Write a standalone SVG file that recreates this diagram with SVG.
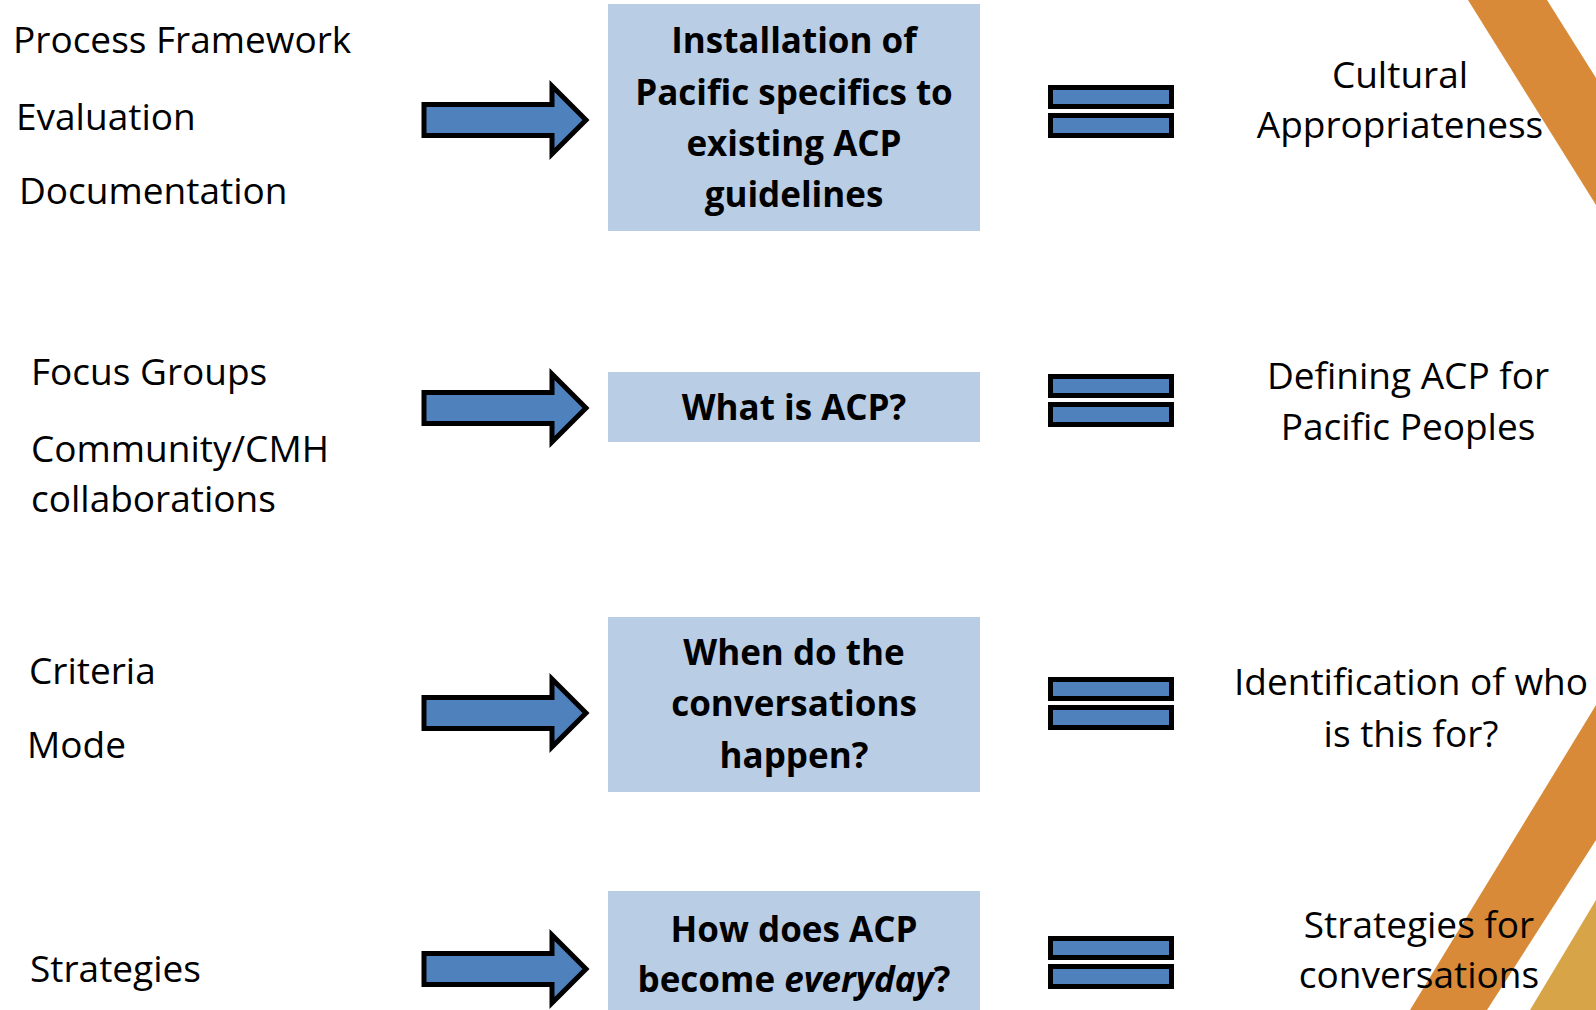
<svg xmlns="http://www.w3.org/2000/svg" width="1596" height="1010" viewBox="0 0 1596 1010">
<style>
.t{font-family:"Open Sans","Noto Sans","Liberation Sans",sans-serif;font-size:37px;fill:#000}
.r{text-anchor:middle}
.b{font-family:"Open Sans","Noto Sans","Liberation Sans",sans-serif;font-size:35px;font-weight:bold;fill:#000;text-anchor:middle}
.box{fill:#B9CDE5}
.arr{fill:#4F81BD;stroke:#000;stroke-width:5;stroke-linejoin:miter}
.eq{fill:#4F81BD;stroke:#000;stroke-width:5}
.s1{fill:#D88A38}
.s2{fill:#D7A548}
</style>
<defs>
<path id="arrow" d="M0,-15.5 H128 V-34 L162,0 L128,34 V15.5 H0 Z"/>
<g id="equal">
<rect x="0" y="-23.5" width="121" height="19"/>
<rect x="0" y="4.5" width="121" height="20"/>
</g>
</defs>
<rect width="1596" height="1010" fill="#fff"/>
<g id="stripes">
<polygon class="s1" points="1468,0 1547,0 1596,78 1596,205"/>
<polygon class="s1" points="1410,1010 1596,705 1596,840 1487,1010"/>
<polygon class="s2" points="1530,1010 1596,900 1596,1010"/>
</g>
<g id="inputs">
<text class="t" x="13" y="53">Process Framework</text>
<text class="t" x="16" y="130">Evaluation</text>
<text class="t" x="19" y="204">Documentation</text>
<text class="t" x="31" y="385">Focus Groups</text>
<text class="t" x="31" y="462">Community/CMH</text>
<text class="t" x="31" y="512">collaborations</text>
<text class="t" x="29" y="684">Criteria</text>
<text class="t" x="27" y="758">Mode</text>
<text class="t" x="30" y="982">Strategies</text>
</g>
<g id="connectors">
<use href="#arrow" class="arr" transform="translate(424,120)"/>
<use href="#arrow" class="arr" transform="translate(424,408)"/>
<use href="#arrow" class="arr" transform="translate(424,713)"/>
<use href="#arrow" class="arr" transform="translate(424,969)"/>
<use href="#equal" class="eq" transform="translate(1050.5,111)"/>
<use href="#equal" class="eq" transform="translate(1050.5,400)"/>
<use href="#equal" class="eq" transform="translate(1050.5,703)"/>
<use href="#equal" class="eq" transform="translate(1050.5,962)"/>
</g>
<g id="box1">
<rect class="box" x="608" y="4" width="372" height="227"/>
<text class="b" x="794" y="53">Installation of</text>
<text class="b" x="794" y="105">Pacific specifics to</text>
<text class="b" x="794" y="156">existing ACP</text>
<text class="b" x="794" y="207">guidelines</text>
</g>
<g id="box2">
<rect class="box" x="608" y="372" width="372" height="70"/>
<text class="b" x="794" y="420">What is ACP?</text>
</g>
<g id="box3">
<rect class="box" x="608" y="617" width="372" height="175"/>
<text class="b" x="794" y="665">When do the</text>
<text class="b" x="794" y="716">conversations</text>
<text class="b" x="794" y="768">happen?</text>
</g>
<g id="box4">
<rect class="box" x="608" y="891" width="372" height="119"/>
<text class="b" x="794" y="942">How does ACP</text>
<text class="b" x="794" y="992">become <tspan font-style="italic">everyday</tspan>?</text>
</g>
<g id="outcomes">
<text class="t r" x="1400" y="88">Cultural</text>
<text class="t r" x="1400" y="138">Appropriateness</text>
<text class="t r" x="1408" y="389">Defining ACP for</text>
<text class="t r" x="1408" y="440">Pacific Peoples</text>
<text class="t r" x="1411" y="695">Identification of who</text>
<text class="t r" x="1411" y="747">is this for?</text>
<text class="t r" x="1419" y="938">Strategies for</text>
<text class="t r" x="1419" y="988">conversations</text>
</g>
</svg>
